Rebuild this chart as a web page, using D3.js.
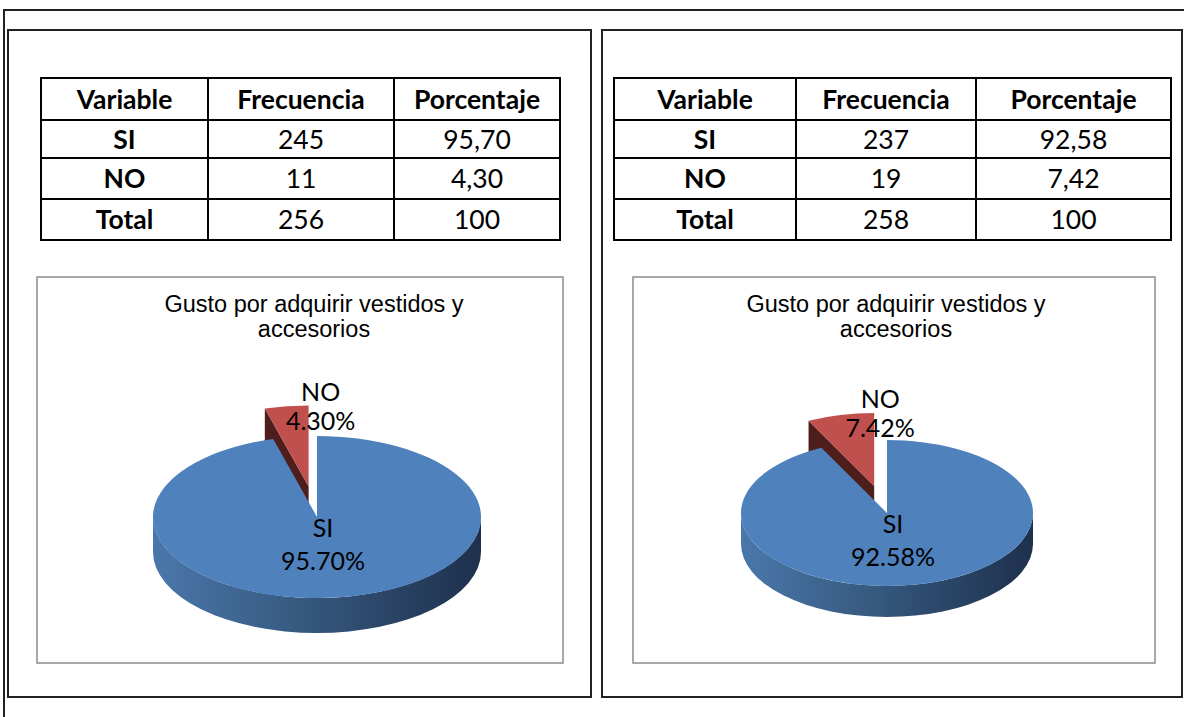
<!DOCTYPE html>
<html><head><meta charset="utf-8">
<script src="https://cdn.jsdelivr.net/npm/d3@7"></script>
<style>body{margin:0;background:#fff}svg{display:block}</style>
</head><body>
<svg id="c" width="1184" height="717"></svg>
<script>
// ---- data ----
const columns = ["Variable", "Frecuencia", "Porcentaje"];
const categories = ["SI", "NO"];
const freqLeft = [245, 11];
const pctLeft = ["95,70", "4,30"];
const totalLeft = 256;
const freqRight = [237, 19];
const pctRight = ["92,58", "7,42"];
const totalRight = 258;
const sharesLeft = [95.70, 4.30];
const sharesRight = [92.58, 7.42];
const chartTitle = ["Gusto por adquirir vestidos y", "accesorios"];

const svg = d3.select("#c");
const tableFont = "Lato, 'Open Sans', sans-serif";
const titleFont = "'Liberation Sans', Arial, sans-serif";
const labFont = "Lato, 'Open Sans', sans-serif";

// outer frame
svg.append("path").attr("d", "M4,717 L4,10 L1184,10").attr("fill", "none").attr("stroke", "#222").attr("stroke-width", 2);

const panels = [
  {px: 8, pw: 583, tx: [41, 208, 394, 560], box: [37, 277, 526, 386], titleDx: 14,
   freq: freqLeft, pct: pctLeft, total: totalLeft, shares: sharesLeft,
   pie: {cx: 317, cy: 517, rx: 164, ry: 81, depth: 35}, noDx: 12, noDy: -5},
  {px: 602, pw: 580, tx: [614, 796, 976, 1171], box: [633, 277, 522, 386], titleDx: 2,
   freq: freqRight, pct: pctRight, total: totalRight, shares: sharesRight,
   pie: {cx: 887, cy: 513, rx: 146, ry: 73, depth: 31}, noDx: 6, noDy: -5}
];
const rowsY = [78, 120, 158, 199, 240];

panels.forEach((p, pi) => {
  const g = svg.append("g");
  g.append("rect").attr("x", p.px).attr("y", 30).attr("width", p.pw).attr("height", 667)
    .attr("fill", "none").attr("stroke", "#222").attr("stroke-width", 2);

  // table
  const rows = [columns,
    [categories[0], String(p.freq[0]), p.pct[0]],
    [categories[1], String(p.freq[1]), p.pct[1]],
    ["Total", String(p.total), "100"]];
  const x = p.tx;
  g.append("rect").attr("x", x[0]).attr("y", rowsY[0]).attr("width", x[3] - x[0]).attr("height", rowsY[4] - rowsY[0])
    .attr("fill", "none").attr("stroke", "#000").attr("stroke-width", 2);
  rowsY.slice(1, 4).forEach(y => g.append("line").attr("x1", x[0]).attr("x2", x[3]).attr("y1", y).attr("y2", y).attr("stroke", "#000").attr("stroke-width", 2));
  x.slice(1, 3).forEach(xx => g.append("line").attr("x1", xx).attr("x2", xx).attr("y1", rowsY[0]).attr("y2", rowsY[4]).attr("stroke", "#000").attr("stroke-width", 2));
  rows.forEach((r, ri) => {
    r.forEach((t, ci) => {
      g.append("text").attr("x", (x[ci] + x[ci + 1]) / 2).attr("y", (rowsY[ri] + rowsY[ri + 1]) / 2 + 9.5)
        .attr("text-anchor", "middle").attr("font-family", tableFont)
        .attr("font-size", 26.5).attr("font-weight", (ri === 0 || ci === 0) ? 700 : 400)
        .attr("fill", "#000").text(t);
    });
  });

  // chart box
  const b = p.box;
  g.append("rect").attr("x", b[0]).attr("y", b[1]).attr("width", b[2]).attr("height", b[3])
    .attr("fill", "#fff").attr("stroke", "#8c8c8c").attr("stroke-width", 1.5);
  chartTitle.forEach((t, i) => g.append("text").attr("x", b[0] + b[2] / 2 + p.titleDx).attr("y", b[1] + 35 + i * 25)
    .attr("text-anchor", "middle").attr("font-family", titleFont).attr("font-size", 23.5).attr("fill", "#000").text(t));

  // 3D pie
  const P = p.pie;
  const data = categories.map((c, i) => ({label: c, value: p.shares[i]}));
  const arcs = d3.pie().sort(null).value(d => d.value)(data);
  const explode = 0.38;
  const pt = (a, dx, dy) => [P.cx + dx + P.rx * Math.sin(a), P.cy + dy - P.ry * Math.cos(a)];

  const defs = svg.append("defs");
  const gid = "sideGrad" + pi;
  const grad = defs.append("linearGradient").attr("id", gid).attr("x1", "0%").attr("x2", "100%").attr("y1", "0").attr("y2", "0");
  grad.append("stop").attr("offset", "0%").attr("stop-color", "#4a77ab");
  grad.append("stop").attr("offset", "45%").attr("stop-color", "#36597f");
  grad.append("stop").attr("offset", "100%").attr("stop-color", "#1e304c");

  const pieG = g.append("g");
  // exploded NO slice first (behind)
  const no = arcs[1];
  const mid = (no.startAngle + no.endAngle) / 2;
  const ox = explode * P.rx * Math.sin(mid), oy = -explode * P.ry * Math.cos(mid);
  {
    const c0 = [P.cx + ox, P.cy + oy];
    const s = pt(no.startAngle, ox, oy), e = pt(no.endAngle, ox, oy);
    pieG.append("path").attr("d", `M${c0[0]},${c0[1]} L${s[0]},${s[1]} L${s[0]},${s[1] + P.depth} L${c0[0]},${c0[1] + P.depth} Z`)
      .attr("fill", "#4e1e1d");
    pieG.append("path").attr("d", `M${c0[0]},${c0[1]} L${s[0]},${s[1]} A${P.rx},${P.ry} 0 0 1 ${e[0]},${e[1]} Z`)
      .attr("fill", "#c0504d");
  }
  // SI slice
  const si = arcs[0];
  {
    const L = [P.cx - P.rx, P.cy], R = [P.cx + P.rx, P.cy];
    pieG.append("path").attr("d",
      `M${R[0]},${R[1]} A${P.rx},${P.ry} 0 0 1 ${L[0]},${L[1]} L${L[0]},${L[1] + P.depth} A${P.rx},${P.ry} 0 0 0 ${R[0]},${R[1] + P.depth} Z`)
      .attr("fill", `url(#${gid})`);
    const s = pt(si.startAngle, 0, 0), e = pt(si.endAngle, 0, 0);
    const large = (si.endAngle - si.startAngle) > Math.PI ? 1 : 0;
    pieG.append("path").attr("d", `M${P.cx},${P.cy} L${s[0]},${s[1]} A${P.rx},${P.ry} 0 ${large} 1 ${e[0]},${e[1]} Z`)
      .attr("fill", "#4f81bd");
  }
  // labels
  const fmt = v => v.toFixed(2) + "%";
  const fs = 25;
  const siL = [P.cx + 6, P.cy + 20];
  pieG.append("text").attr("x", siL[0]).attr("y", siL[1]).attr("text-anchor", "middle").attr("font-family", labFont).attr("font-size", fs).text(si.data.label);
  pieG.append("text").attr("x", siL[0]).attr("y", siL[1] + 33).attr("text-anchor", "middle").attr("font-family", labFont).attr("font-size", fs).text(fmt(si.data.value));
  const noL = [P.cx + ox + p.noDx, P.cy - P.ry + oy + p.noDy];
  pieG.append("text").attr("x", noL[0]).attr("y", noL[1]).attr("text-anchor", "middle").attr("font-family", labFont).attr("font-size", fs).text(no.data.label);
  pieG.append("text").attr("x", noL[0]).attr("y", noL[1] + 29).attr("text-anchor", "middle").attr("font-family", labFont).attr("font-size", fs).text(fmt(no.data.value));
});
</script>
</body></html>
